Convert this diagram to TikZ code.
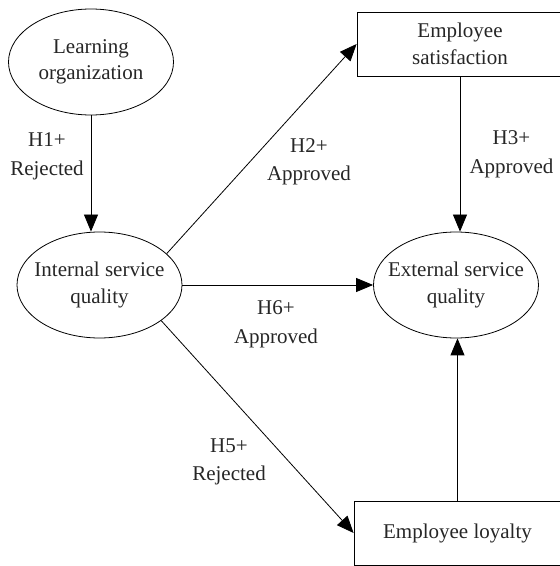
\documentclass[tikz,border=0pt]{standalone}
\usepackage{fontspec}
\setmainfont{Liberation Serif}
\usetikzlibrary{shapes.geometric,arrows.meta}
\begin{document}
\begin{tikzpicture}[x=1pt,y=1pt,
  every node/.style={font=\fontsize{21}{27}\selectfont, text=black!85},
  oval/.style={draw, ellipse, line width=0.8pt, inner sep=0pt, minimum width=165pt, minimum height=106pt},
  ovaltext/.style={align=center, inner sep=0pt},
  boxnode/.style={draw, rectangle, line width=0.8pt, inner sep=0pt, minimum width=206pt, minimum height=64pt, align=center},
  lbl/.style={align=center, font=\fontsize{21}{28.5}\selectfont},
  arr/.style={line width=0.8pt, -{Triangle[length=17pt,width=14pt]}}]
\useasboundingbox (0,0) rectangle (560,566);
\node[oval, label={[ovaltext, font=\fontsize{21}{26}\selectfont]center:Learning\\organization}] (LO) at (91,504) {};
\node[oval, label={[ovaltext]center:Internal service\\quality}] (ISQ) at (99.5,281) {};
\node[oval, label={[ovaltext]center:External service\\quality}] (ESQ) at (456,281) {};
\node[boxnode] (ES) at (460,522) {Employee\\satisfaction};
\node[boxnode, minimum width=207pt] (EL) at (457.5,33) {Employee loyalty};
\draw[arr] (LO.south) -- (LO.south |- ISQ.north);
\draw[arr] (ISQ.25) -- (ES.west);
\draw[arr] (ES.south) -- (ES.south |- ESQ.north);
\draw[arr] (ISQ.east) -- (ESQ.west);
\draw[arr] (ISQ.-30) -- (EL.west);
\draw[arr] (EL.north) -- (EL.north |- ESQ.south);
\node[lbl] (L1) at (47,409.5) {H1+\\Rejected};
\node[lbl] (L2) at (309,404) {H2+\\Approved};
\node[lbl] (L3) at (511.5,411.5) {H3+\\Approved};
\node[lbl] (L6) at (276,241.5) {H6+\\Approved};
\node[lbl] (L5) at (229,104) {H5+\\Rejected};
\end{tikzpicture}
\end{document}
